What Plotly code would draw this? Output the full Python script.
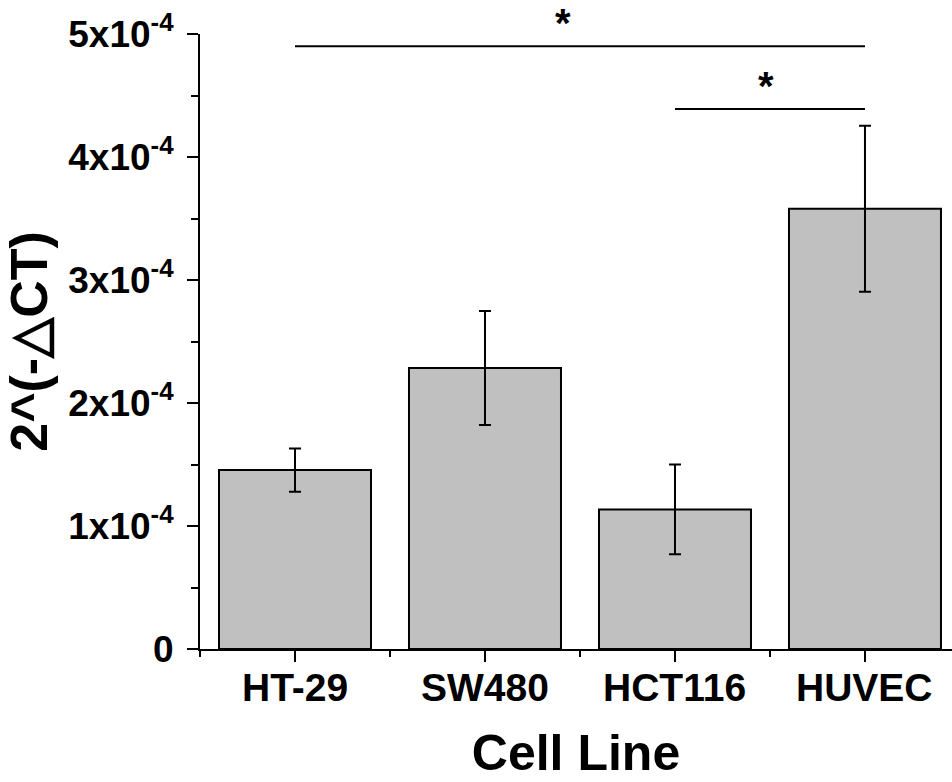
import plotly.graph_objects as go

# Relative expression per cell line (mean and SD)
cell_lines = ["HT-29", "SW480", "HCT116", "HUVEC"]
expression = [1.455e-4, 2.285e-4, 1.135e-4, 3.58e-4]
expression_sd = [0.176e-4, 0.463e-4, 0.365e-4, 0.675e-4]

# Significance brackets: (start index, end index, height, star x position)
bracket_start = [0, 2]
bracket_end = [3, 3]
bracket_height = [4.90e-4, 4.39e-4]
star_x = [1.41, 2.48]
star_text = ["*", "*"]

y_ticks = [0, 1e-4, 2e-4, 3e-4, 4e-4, 5e-4]
y_ticktext = ["0"] + [f"{i}x10<sup>-4</sup>" for i in range(1, 6)]

FONT = "Liberation Sans, Arial, sans-serif"
x_pos = list(range(len(cell_lines)))

fig = go.Figure()
fig.add_trace(go.Bar(
    x=x_pos,
    y=expression,
    width=0.8,
    marker=dict(color="#c0c0c0", line=dict(color="black", width=2)),
    error_y=dict(type="data", array=expression_sd, visible=True,
                 color="black", thickness=2, width=6),
))

for s, e, h in zip(bracket_start, bracket_end, bracket_height):
    fig.add_shape(type="line", xref="x", yref="y", x0=s, x1=e, y0=h, y1=h,
                  line=dict(color="black", width=2))

for sx, h, t in zip(star_x, bracket_height, star_text):
    fig.add_annotation(x=sx, y=h, xref="x", yref="y", text=f"<b>{t}</b>",
                       showarrow=False, yanchor="bottom", yshift=-1,
                       font=dict(family=FONT, size=40, color="black"))

# Category labels under the x axis
for xp, name in zip(x_pos, cell_lines):
    fig.add_annotation(x=xp, y=0, xref="x", yref="paper", text=f"<b>{name}</b>",
                       showarrow=False, yanchor="top", yshift=-15,
                       font=dict(family=FONT, size=39, color="black"))

fig.update_layout(
    width=952, height=782,
    margin=dict(l=200, r=0, t=34, b=133),
    plot_bgcolor="white", paper_bgcolor="white",
    showlegend=False,
    font=dict(family=FONT, color="black"),
)

fig.update_xaxes(
    range=[-0.5, 3.458],
    tickmode="array", tickvals=x_pos, showticklabels=False,
    ticks="outside", ticklen=11, tickwidth=2, tickcolor="black",
    minor=dict(tickmode="array", tickvals=[-0.5, 0.5, 1.5, 2.5],
               ticks="outside", ticklen=6, tickwidth=2, tickcolor="black"),
    showline=True, linecolor="black", linewidth=2,
    showgrid=False, zeroline=False,
    title=dict(text="<b>Cell Line</b>", standoff=74,
               font=dict(family=FONT, size=50, color="black")),
)

fig.update_yaxes(
    range=[0, 5e-4],
    tickmode="array", tickvals=y_ticks,
    ticktext=[f"<b>{t}</b>" for t in y_ticktext],
    tickfont=dict(family=FONT, size=37, color="black"),
    ticks="outside", ticklen=11, tickwidth=2, tickcolor="black",
    ticklabelstandoff=6,
    minor=dict(dtick=0.5e-4, tick0=0, ticks="outside", ticklen=7,
               tickwidth=2, tickcolor="black", showgrid=False),
    showline=True, linecolor="black", linewidth=2,
    showgrid=False, zeroline=False,
    title=dict(text="<b>2^(-△CT)</b>", standoff=8,
               font=dict(family=FONT, size=52, color="black")),
)

fig.write_html("out.html")
